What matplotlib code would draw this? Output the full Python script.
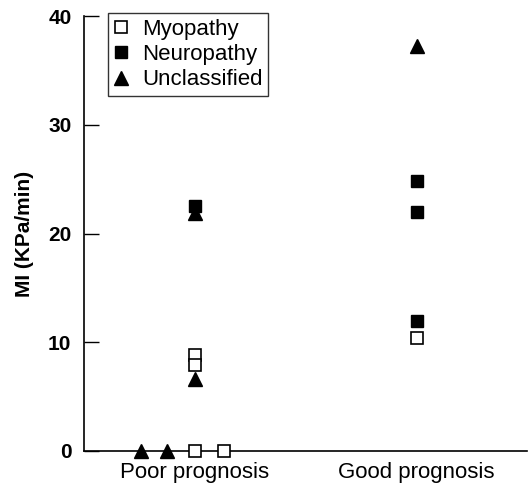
import matplotlib.pyplot as plt

plt.rcParams['font.family'] = ['Liberation Sans', 'DejaVu Sans']

groups = ["Poor prognosis", "Good prognosis"]

# x = group position (1 poor, 2 good), zero values are spread along the axis
myopathy_x = [1, 1, 1.0, 1.13, 2]
myopathy_y = [8.8, 7.9, 0, 0, 10.4]

neuropathy_x = [1, 2, 2, 2]
neuropathy_y = [22.5, 24.8, 22.0, 12.0]

unclassified_x = [1, 1, 0.757, 0.874, 2]
unclassified_y = [21.9, 6.6, 0, 0, 37.3]

fig = plt.figure(figsize=(5.28, 4.91), dpi=100)
ax = fig.add_axes([0.159, 0.0815, 0.84, 0.8855])

ax.plot(myopathy_x, myopathy_y, ls='none', marker='s', ms=8, mfc='white',
        mec='black', mew=1.2, label='Myopathy', clip_on=False, zorder=3)
ax.plot(neuropathy_x, neuropathy_y, ls='none', marker='s', ms=8, mfc='black',
        mec='black', label='Neuropathy', clip_on=False, zorder=3)
ax.plot(unclassified_x, unclassified_y, ls='none', marker='^', ms=9.5, mfc='black',
        mec='black', label='Unclassified', clip_on=False, zorder=3)

ax.set_xlim(0.5, 2.5)
ax.set_ylim(0, 40)
ax.set_xticks([1, 2])
ax.set_xticklabels(groups, fontsize=16)
ax.set_yticks([0, 10, 20, 30, 40])
ax.tick_params(axis='x', length=0, pad=8)
ax.tick_params(axis='y', direction='in', length=11, width=1, labelsize=15, pad=9)
for lab in ax.get_yticklabels():
    lab.set_fontweight('bold')
ax.set_ylabel("MI (KPa/min)", fontsize=15, fontweight='bold', labelpad=10)

for s in ['top', 'right']:
    ax.spines[s].set_visible(False)
for s in ['left', 'bottom']:
    ax.spines[s].set_linewidth(1.2)

leg = ax.legend(loc='upper left', bbox_to_anchor=(0.2045, 0.9735),
                bbox_transform=fig.transFigure, fontsize=16, frameon=True,
                fancybox=False, edgecolor='black', handlelength=0.7,
                handletextpad=0.6, borderpad=0.25, labelspacing=0.2,
                borderaxespad=0)
leg.get_frame().set_linewidth(1.0)

fig.savefig("out.png", dpi=100)
